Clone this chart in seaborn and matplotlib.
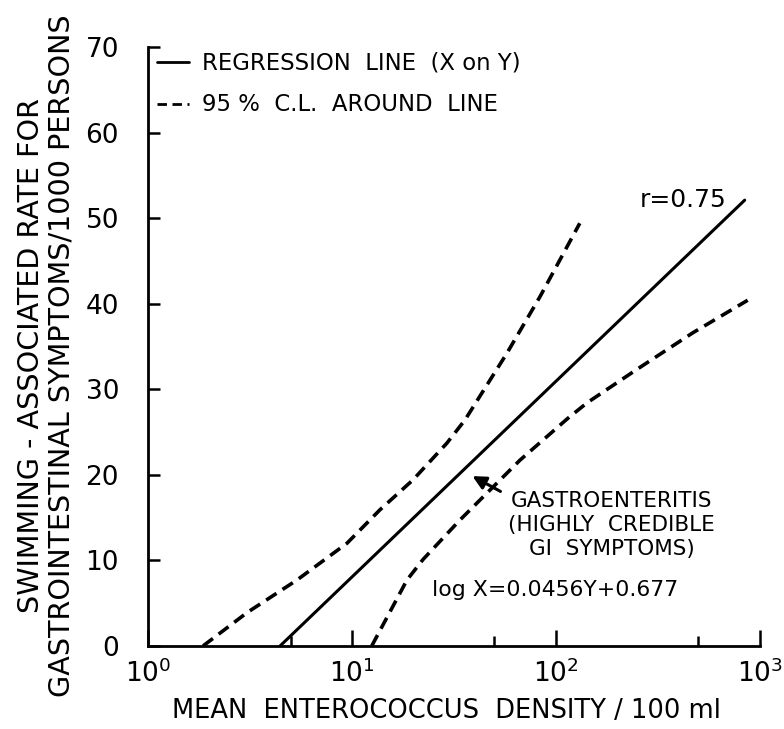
import numpy as np
import pandas as pd
import matplotlib
matplotlib.use("Agg")
import matplotlib.pyplot as plt
import matplotlib.ticker as mticker
import seaborn as sns

# regression line (X on Y): log X = 0.0456Y + 0.677
reg_x = [4.44, 844]
reg_y = [0, 52.1]

# 95% confidence limits around the line
upper_x = [1.86, 3.06, 5.37, 9.45, 13.7, 19.9, 29.2, 35.8, 57.5, 83.5, 131]
upper_y = [0, 3.9, 7.7, 12.0, 15.9, 19.4, 23.7, 26.4, 34.2, 40.8, 49.4]
lower_x = [12.5, 18.6, 22.3, 33.8, 43.9, 66.6, 114.5, 142, 249, 470, 873]
lower_y = [0, 7.7, 10.1, 14.7, 17.4, 21.7, 26.6, 28.4, 32.3, 36.6, 40.4]

y_ticks = [0, 10, 20, 30, 40, 50, 60, 70]
x_ticks = [1, 10, 100, 1000]

sns.set_style("ticks")
plt.rcParams["font.family"] = ["DejaVu Sans"]
for k in ["text.color", "axes.labelcolor", "xtick.color", "ytick.color", "axes.edgecolor"]:
    plt.rcParams[k] = "black"

fig = plt.figure(figsize=(7.84, 7.29), dpi=100)
ax = fig.add_axes([0.189, 0.114, 0.78, 0.8215])
ax.set_xscale("log")

dash = (0, (3.4, 2.0))
sns.lineplot(x=reg_x, y=reg_y, ax=ax, color="black", lw=2.2, sort=False,
             estimator=None, label="REGRESSION  LINE  (X on Y)")
sns.lineplot(x=upper_x, y=upper_y, ax=ax, color="black", lw=2.6, sort=False,
             estimator=None, linestyle=dash, label="95 %  C.L.  AROUND  LINE")
sns.lineplot(x=lower_x, y=lower_y, ax=ax, color="black", lw=2.6, sort=False,
             estimator=None, linestyle=dash, label="_nolegend_")

ax.set_xlim(1, 1000)
ax.set_ylim(0, 70)
ax.set_yticks(y_ticks)
ax.set_xticks(x_ticks)
ax.xaxis.set_minor_locator(mticker.FixedLocator([5, 50, 500]))
ax.xaxis.set_minor_formatter(mticker.NullFormatter())

sns.despine(ax=ax)
for s in ["left", "bottom"]:
    ax.spines[s].set_linewidth(2.0)
ax.tick_params(axis="y", direction="in", length=8.6, width=1.8, pad=21, labelsize=19)
ax.tick_params(axis="x", which="major", direction="in", length=11.5, width=1.8,
               pad=10, labelsize=19)
ax.tick_params(axis="x", which="minor", direction="in", length=7, width=1.8)

leg = ax.legend(loc="upper left", bbox_to_anchor=(0.015, 0.992), frameon=False,
                fontsize=16.4, handlelength=1.4, handletextpad=0.55,
                labelspacing=0.82, borderpad=0, borderaxespad=0)
for h in leg.get_lines():
    h.set_linewidth(2.0)

ax.text(419, 52.1, "r=0.75", fontsize=18, ha="center", va="center")
ax.text(188, 14.1, "GASTROENTERITIS\n(HIGHLY  CREDIBLE\nGI  SYMPTOMS)", fontsize=15.5,
        ha="center", va="center", multialignment="center", linespacing=1.25)
ax.annotate("", xy=(37.9, 20.0), xytext=(55, 17.9),
            arrowprops=dict(arrowstyle="-|>", color="black", lw=2.2, mutation_scale=20))
ax.text(99, 6.5, "log X=0.0456Y+0.677", fontsize=15.8, ha="center", va="center")

ax.set_xlabel("MEAN  ENTEROCOCCUS  DENSITY / 100 ml", fontsize=18.5, labelpad=6)
ax.xaxis.set_label_coords(0.487, -0.108)
ax.xaxis.label.set_va("center")
fig.text(0.059, 0.512, "SWIMMING - ASSOCIATED RATE FOR\nGASTROINTESTINAL SYMPTOMS/1000 PERSONS",
         rotation=90, ha="center", va="center", fontsize=20.6,
         multialignment="center", linespacing=1.15)

fig.savefig("out.png", dpi=100)
